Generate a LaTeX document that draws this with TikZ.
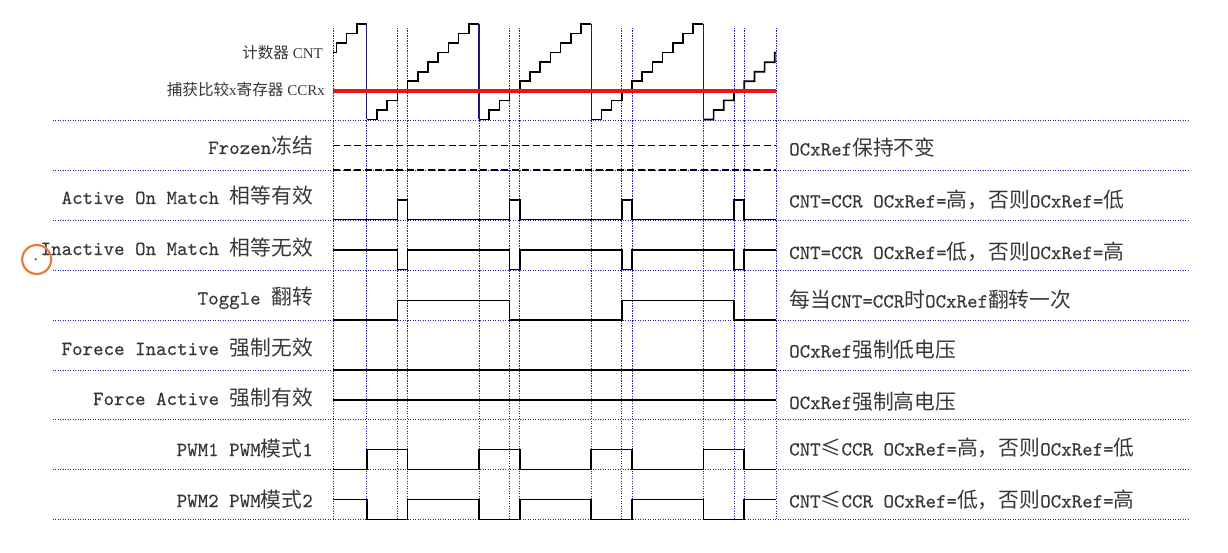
\documentclass[tikz,border=0pt]{standalone}
\usepackage{fontspec}
\setmainfont{Liberation Serif}
\newfontfamily\cjk{Noto Sans CJK SC}[Scale=1.04]
\newfontfamily\monof{lmmono10-regular.otf}[FakeBold=0.35]
\newcommand\zh[1]{{\cjk #1}}
\definecolor{gridblue}{RGB}{35,35,165}
\definecolor{dropblue}{RGB}{25,25,110}
\definecolor{txtgray}{RGB}{55,55,55}
\definecolor{ccrred}{RGB}{235,20,20}
\definecolor{cursorc}{RGB}{232,125,62}
\tikzset{
  gridline/.style={gridblue, line width=0.9pt, dash pattern=on 1.1pt off 1.4pt},
  sig/.style={black, line width=1.7pt, line join=miter},
  dropline/.style={dropblue, line width=1.2pt},
  dashsig/.style={black, line width=1.8pt, dash pattern=on 7pt off 3.5pt},
  lbl/.style={anchor=base east, font=\fontsize{20}{22}\selectfont\monof, text=txtgray, inner sep=0pt},
  rlbl/.style={anchor=base west, font=\fontsize{20}{22}\selectfont\monof, text=txtgray, inner sep=0pt},
  toplbl/.style={anchor=base east, font=\fontsize{15}{17}\selectfont, text=txtgray, inner sep=0pt},
}
\begin{document}
\begin{tikzpicture}[x=1pt,y=-1pt]
\useasboundingbox (0,0) rectangle (1228,553);
% horizontal grid lines
\foreach \yy in {120,170,220,270,320,370,419.5,469.5,519.5}
  \draw[gridline] (52.7,\yy) -- (1188,\yy);
% vertical grid lines
\foreach \xx in {333,776}
  \draw[gridline] (\xx,28) -- (\xx,519.5);
\foreach \s in {366.8,479,591.2,703.4}{
  \draw[gridline] (\s,28) -- (\s,519.5);
  \draw[gridline] (\s+30.6,28) -- (\s+30.6,519.5);
  \draw[gridline] (\s+40.8,28) -- (\s+40.8,519.5);
}
% counter staircase
\draw[sig] (333,52.65) -- (336.4,52.65) \foreach \k in {1,2,3}{ -- ++(0,-9.55) -- ++(10.2,0)};
\foreach \s in {366.8,479,591.2}{
  \draw[sig] (\s,119.5) \foreach \k in {1,...,10}{ -- ++(10.2,0) -- ++(0,-9.55)} -- ++(10.2,0);
}
\draw[sig] (703.4,119.5) \foreach \k in {1,...,7}{ -- ++(10.2,0) -- ++(0,-9.55)} -- (776,52.65);
\foreach \s in {366.8,479,591.2,703.4}
  \draw[dropline] (\s,24) -- (\s,119.5);
% CCRx line
\draw[ccrred, line width=4pt] (333,90.7) -- (776,90.7);
% Frozen
\draw[dashsig] (333,145.5) -- (776,145.5);
\draw[dashsig] (333,170) -- (776,170);
% Active on match
\draw[sig] (333,219.5) \foreach \s in {366.8,479,591.2,703.4}{ -- (\s+30.6,219.5) -- (\s+30.6,200) -- (\s+40.8,200) -- (\s+40.8,219.5)} -- (776,219.5);
% Inactive on match
\draw[sig] (333,250) \foreach \s in {366.8,479,591.2,703.4}{ -- (\s+30.6,250) -- (\s+30.6,269.5) -- (\s+40.8,269.5) -- (\s+40.8,250)} -- (776,250);
% Toggle
\draw[sig] (333,320) -- (397.4,320) -- (397.4,300.5) -- (509.6,300.5) -- (509.6,320) -- (621.8,320) -- (621.8,300.5) -- (734,300.5) -- (734,320) -- (776,320);
% Force inactive / active
\draw[sig] (333,370) -- (776,370);
\draw[sig] (333,400) -- (776,400);
% PWM1
\draw[sig] (333,469.5) \foreach \s in {366.8,479,591.2,703.4}{ -- (\s,469.5) -- (\s,449.5) -- (\s+40.8,449.5) -- (\s+40.8,469.5)} -- (776,469.5);
% PWM2
\draw[sig] (333,499.5) \foreach \s in {366.8,479,591.2,703.4}{ -- (\s,499.5) -- (\s,519.5) -- (\s+40.8,519.5) -- (\s+40.8,499.5)} -- (776,499.5);
% top labels
\node[toplbl] (cnt) at (323,58.5) {\zh{计数器} CNT};
\node[toplbl] (ccr) at (325,96) {\zh{捕获比较}x\zh{寄存器} CCRx};
% left labels
\node[lbl] (l1) at (313,154) {Frozen\zh{冻结}};
\node[lbl] (l2) at (313,204) {Active On Match \zh{相等有效}};
\node[lbl] (l3) at (313,255) {Inactive On Match \zh{相等无效}};
\node[lbl] (l4) at (313,304.5) {Toggle \zh{翻转}};
\node[lbl] (l5) at (313,355) {Forece Inactive \zh{强制无效}};
\node[lbl] (l6) at (313,405) {Force Active \zh{强制有效}};
\node[lbl] (l7) at (313,456) {PWM1 PWM\zh{模式}1};
\node[lbl] (l8) at (313,507) {PWM2 PWM\zh{模式}2};
% right labels
\node[rlbl] (r1) at (789,155.5) {OCxRef\zh{保持不变}};
\node[rlbl] (r2) at (789,207.5) {CNT=CCR OCxRef=\zh{高，否则}OCxRef=\zh{低}};
\node[rlbl] (r3) at (789,259) {CNT=CCR OCxRef=\zh{低，否则}OCxRef=\zh{高}};
\node[rlbl] (r4) at (789,307.5) {\zh{每当}CNT=CCR\zh{时}OCxRef\zh{翻转一次}};
\node[rlbl] (r5) at (789,357.5) {OCxRef\zh{强制低电压}};
\node[rlbl] (r6) at (789,409) {OCxRef\zh{强制高电压}};
\node[rlbl] (r7) at (789,455.5) {CNT\zh{≤}CCR OCxRef=\zh{高，否则}OCxRef=\zh{低}};
\node[rlbl] (r8) at (789,507.5) {CNT\zh{≤}CCR OCxRef=\zh{低，否则}OCxRef=\zh{高}};
% cursor mark
\draw[cursorc, line width=2.2pt] (36.7,259.5) circle[radius=14.5];
\fill[red!80!black] (35.7,259.3) circle[radius=1.1];
\end{tikzpicture}
\end{document}
